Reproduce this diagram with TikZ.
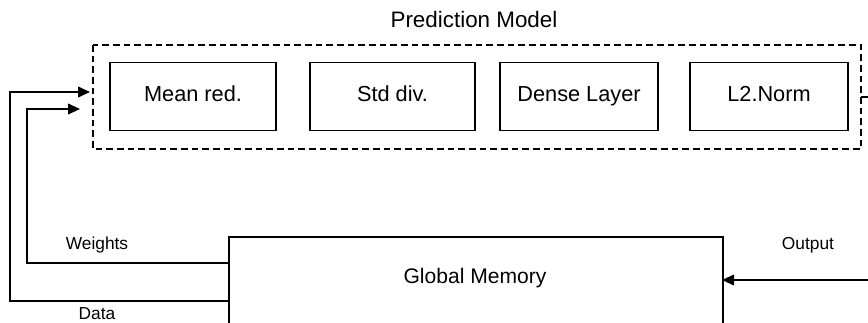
\documentclass[tikz,border=0pt]{standalone}
\usepackage{fontspec}
\setmainfont{Liberation Sans}
\usetikzlibrary{arrows.meta}
\begin{document}
\begin{tikzpicture}[x=0.75pt,y=-0.75pt,
  blk/.style={draw, line width=1.3pt, minimum height=51pt, inner sep=0pt, text height=11pt, text depth=3pt, font=\fontsize{16.3}{19}\selectfont},
  lbl/.style={font=\fontsize{13}{15}\selectfont, inner sep=0pt},
  conn/.style={line width=1.3pt},
  arr/.style={conn, -{Triangle[length=9pt,width=8pt]}}]
\useasboundingbox (0,0) rectangle (868,322);
\clip (0,0) rectangle (868,322);
\node[font=\fontsize{16.8}{19}\selectfont] (title) at (474,19) {Prediction Model};
\draw[line width=1.2pt, dashed, dash pattern=on 5pt off 3pt] (93,45) rectangle (861,149);
\node[blk, minimum width=124.5pt] (mean) at (193,96.5) {Mean red.};
\node[blk, minimum width=123.75pt] (std) at (392.5,96.5) {Std div.};
\node[blk, minimum width=118.5pt] (dense) at (579,96.5) {Dense Layer};
\node[blk, minimum width=118.5pt] (l2) at (769,96.5) {L2.Norm};
\coordinate (pmr) at (861,97);
\coordinate (pmrout) at (870,97);
\draw[line width=1.2pt] (pmr) -- (pmrout);
\node[draw, line width=1.3pt, minimum width=370.5pt, minimum height=100pt, inner sep=0pt, anchor=north west] (gm) at (228,236) {};
\node[font=\fontsize{15.8}{18}\selectfont] (gmt) at (475,278) {Global Memory};
\coordinate (w1) at (228,263);
\coordinate (d1) at (228,301);
\coordinate (wt) at (80,109);
\coordinate (dt) at (90,92);
\draw[arr] (w1) -- (27,263) -- (27,109) -- (wt);
\draw[arr] (d1) -- (10,301) -- (10,92) -- (dt);
\coordinate (outsrc) at (870,280);
\coordinate (outdst) at (722,280);
\draw[arr] (outsrc) -- (outdst);
\node[lbl] (wl) at (97,245) {Weights};
\node[lbl] (dl) at (97,314) {Data};
\node[lbl] (ol) at (808,245) {Output};
\end{tikzpicture}
\end{document}
